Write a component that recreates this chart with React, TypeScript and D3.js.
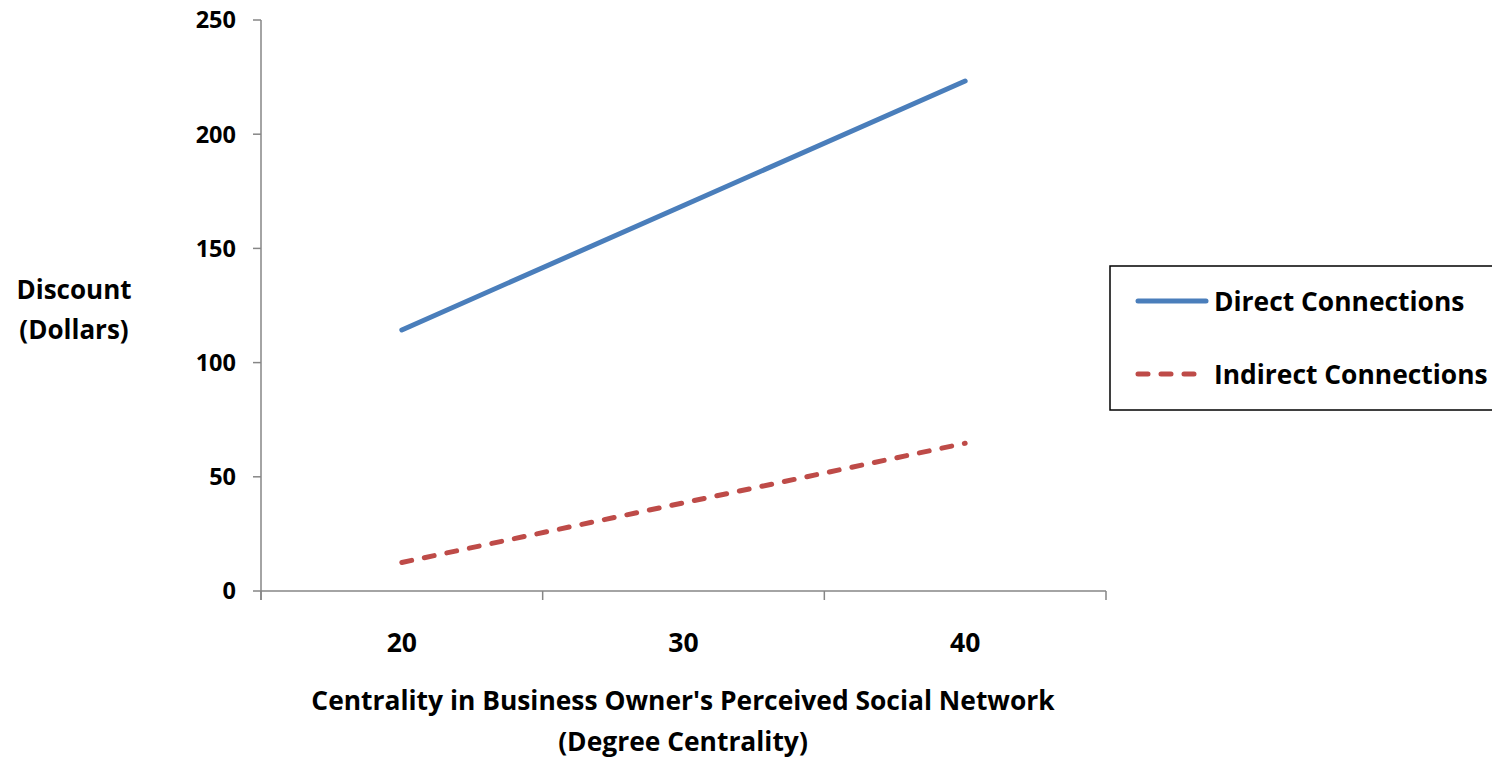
import React from "react";
import * as d3 from "d3";

const categories = ["20", "30", "40"];
const directValues = [114.3, 168.8, 223.3];
const indirectValues = [12.5, 38.6, 64.7];
const yTicks = [0, 50, 100, 150, 200, 250];
const seriesNames = ["Direct Connections", "Indirect Connections"];

const W = 1492;
const H = 760;
const FONT = "'Open Sans', Lato, sans-serif";

export default function App() {
  const x = d3.scaleBand<string>().domain(categories).range([261, 1106]).padding(0);
  const y = d3.scaleLinear().domain([0, 250]).range([591, 20]);
  const line = d3
    .line<number>()
    .x((_, i) => (x(categories[i]) as number) + x.bandwidth() / 2)
    .y((d) => y(d));
  const axisColor = "#868686";
  const blue = "#4a7ebb";
  const red = "#be4b48";
  const bounds = [...categories.map((c) => x(c) as number), x.range()[1]];

  return (
    <svg width={W} height={H} style={{ position: "absolute", left: 0, top: 0, background: "#fff" }} fontFamily={FONT} fontWeight="bold">
      {/* y axis */}
      <line x1={261} x2={261} y1={y(250)} y2={y(0) + 9} stroke={axisColor} strokeWidth={1.5} />
      {yTicks.map((t) => (
        <g key={t}>
          <line x1={253} x2={261} y1={y(t)} y2={y(t)} stroke={axisColor} strokeWidth={1.5} />
          <text x={236} y={y(t)} dy="0.36em" textAnchor="end" fontSize={23.5} fill="#000">
            {t}
          </text>
        </g>
      ))}
      {/* x axis */}
      <line x1={261} x2={1106} y1={y(0)} y2={y(0)} stroke={axisColor} strokeWidth={1.5} />
      {bounds.map((b, i) => (
        <line key={i} x1={b} x2={b} y1={y(0)} y2={y(0) + 9} stroke={axisColor} strokeWidth={1.5} />
      ))}
      {categories.map((c) => (
        <text key={c} x={(x(c) as number) + x.bandwidth() / 2} y={642} dy="0.36em" textAnchor="middle" fontSize={26.5} fill="#000">
          {c}
        </text>
      ))}
      {/* axis titles */}
      <text x={683} y={700} dy="0.36em" textAnchor="middle" fontSize={26.4} fill="#000">
        Centrality in Business Owner's Perceived Social Network
      </text>
      <text x={683} y={741} dy="0.36em" textAnchor="middle" fontSize={26.4} fill="#000">
        (Degree Centrality)
      </text>
      <text x={74} y={290} dy="0.36em" textAnchor="middle" fontSize={26} fill="#000">
        Discount
      </text>
      <text x={74} y={330} dy="0.36em" textAnchor="middle" fontSize={26} fill="#000">
        (Dollars)
      </text>
      {/* series */}
      <path d={line(directValues) || ""} fill="none" stroke={blue} strokeWidth={5} strokeLinecap="round" />
      <path d={line(indirectValues) || ""} fill="none" stroke={red} strokeWidth={5} strokeLinecap="round" strokeDasharray="10 13" />
      {/* legend */}
      <rect x={1110} y={266} width={400} height={144} fill="#fff" stroke="#000" strokeWidth={1.5} />
      <line x1={1138} x2={1206} y1={301} y2={301} stroke={blue} strokeWidth={5} strokeLinecap="round" />
      <line x1={1138} x2={1206} y1={374} y2={374} stroke={red} strokeWidth={5} strokeLinecap="round" strokeDasharray="10 13" />
      <text x={1214} y={301} dy="0.36em" fontSize={26.4} fill="#000">
        {seriesNames[0]}
      </text>
      <text x={1214} y={374} dy="0.36em" fontSize={26.4} fill="#000">
        {seriesNames[1]}
      </text>
    </svg>
  );
}
